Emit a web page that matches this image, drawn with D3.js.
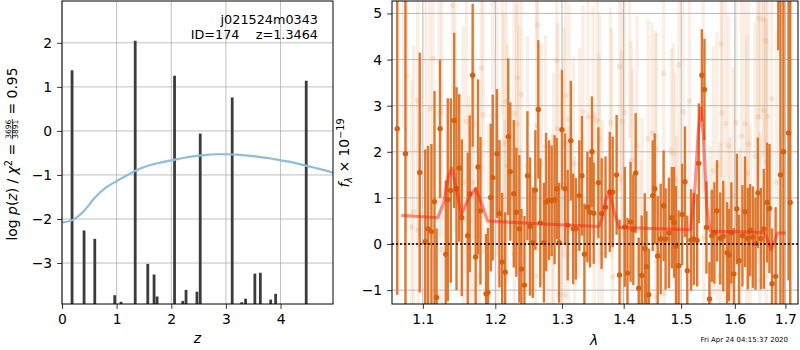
<!DOCTYPE html>
<html>
<head>
<meta charset="utf-8">
<script src="https://cdn.jsdelivr.net/npm/d3@7"></script>
<style>
body { margin: 0; background: #fff; }
svg { font-family: "DejaVu Sans", sans-serif; }
text { white-space: pre; }
</style>
</head>
<body>
<div class="canvas"></div>
<script>
// ---- p(z) panel data
const zCurve = [0, 0.2, 0.4, 0.6, 0.8, 1.0, 1.2, 1.4, 1.6, 1.8, 2.0, 2.2, 2.4, 2.6, 2.8, 3.0, 3.2, 3.4, 3.6, 3.8, 4.0, 4.2, 4.4, 4.6, 4.8, 4.96]
const logPCurve = [-2.08, -2.02, -1.82, -1.52, -1.29, -1.14, -1.0, -0.87, -0.78, -0.72, -0.67, -0.62, -0.58, -0.55, -0.53, -0.53, -0.54, -0.56, -0.59, -0.62, -0.67, -0.71, -0.77, -0.83, -0.89, -0.95]
const spikeZ = [0.184, 0.404, 0.60, 0.965, 1.08, 1.34, 1.57, 1.685, 1.74, 2.06, 2.21, 2.27, 2.47, 2.53, 3.115, 3.29, 3.36, 3.53, 3.63, 3.82, 3.91, 4.47]
const spikeLogP = [1.38, -2.26, -2.45, -3.73, -3.88, 2.05, -3.02, -3.26, -3.76, 1.25, -3.86, -3.61, -3.65, -0.06, 0.76, -3.89, -3.81, -3.24, -3.22, -3.83, -3.70, 1.14]
const zTicks = [0, 1, 2, 3, 4]
const logPTicks = [-3, -2, -1, 0, 1, 2]

// ---- spectrum panel data
const lamTicks = [1.1, 1.2, 1.3, 1.4, 1.5, 1.6, 1.7]
const fluxTicks = [-1, 0, 1, 2, 3, 4, 5]

const boldLam = [1.0667, 1.0773, 1.0959, 1.1032, 1.1069, 1.1114, 1.1155, 1.1183, 1.1230, 1.1307, 1.1334, 1.1375, 1.1422, 1.1454, 1.1491, 1.1527, 1.1609, 1.1637, 1.1678, 1.1720, 1.1753, 1.1788, 1.1867, 1.1894, 1.1935, 1.1963,
    1.2024, 1.2060, 1.2099, 1.2143, 1.2188, 1.2218, 1.2269, 1.2307, 1.2352, 1.2382, 1.2427, 1.2472, 1.2512, 1.2552, 1.2591, 1.2636, 1.2666, 1.2721, 1.2755, 1.2800, 1.2840, 1.2885, 1.2919, 1.2955, 1.3000, 1.3048, 1.3090, 1.3139, 1.3177, 1.3219, 1.3274, 1.3316, 1.3355, 1.3403, 1.3445, 1.3477, 1.3505,
    1.3581, 1.3634, 1.3698, 1.3768, 1.3816, 1.3882, 1.3931, 1.4019, 1.4064, 1.4116, 1.4163, 1.4203, 1.4255, 1.4307, 1.4359, 1.4388, 1.4428, 1.4497, 1.4532, 1.4584, 1.4636, 1.4688, 1.4723, 1.4782, 1.4834, 1.4874, 1.4908, 1.4955, 1.5019, 1.5069, 1.5111, 1.5180, 1.5230,
    1.5291, 1.5322, 1.5378, 1.5426, 1.5463, 1.5519, 1.5563, 1.5611, 1.5661, 1.5722, 1.5778, 1.5852, 1.5889, 1.5933, 1.5981, 1.6039, 1.6079, 1.6146, 1.6197, 1.6250, 1.6296, 1.6349, 1.6402, 1.6448, 1.6507, 1.6566, 1.6631, 1.6679, 1.6730, 1.6803, 1.6856, 1.6900, 1.6960, 1.7065, 1.7100]
const boldFlux = [2.5, 1.96, 1.55, 0.05, 0.33, 0.27, 0.92, -1.16, 2.5, -0.22, 0.96, 1.16, 2.68, 1.2, 1.65, 0.57, 0.18, 1.09, 3.66, -0.28, 1.67, 0.72, -1.08, -1.05, 1.01, 1.44,
    1.96, 0.66, -0.39, -0.61, 2.33, 1.57, 1.09, 0.69, 0.33, -0.54, -0.89, 1.48, 0.38, 0.03, 1.17, 2.92, 0.46, 0.03, 0.91, 0.95, 0.94, 0.96, 1.2, 0.03, 2.48, 1.2, 0.41, 2.24, 0.33, 0.33, 1.05, 1.48, -0.22, 0.8, 0.69, 2.0, 0.67,
    1.33, 0.66, 0.8, 1.13, 1.13, 1.5, -0.67, 0.37, -0.63, 0.48, 0.31, 1.54, -0.96, -0.68, -0.1, -0.49, -1.1, 1.05, 1.2, -0.26, 0.11, 0.83, 0.11, 0.24, 0.57, 0.47, -0.04, -0.47, 0.64, 1.35, -0.58, 0.09, 0.11,
    0.08, 1.75, 3.66, 3.35, 0.36, -1.19, 0.18, 0.24, 0.72, 0.12, 0.17, -0.19, -0.24, 0.24, -0.65, 0.76, -0.36, 0.18, 0.7, 0.12, 0.3, 0.15, 0.01, 1.11, 0.12, 0.33, 0.9, 0.77, -0.86, -0.7, 6.5, 1.5, 2.0, 2.41, 0.9]
const boldErr = [3.6, 3.4, 2.6, 2.0, 1.8, 1.9, 2.4, 1.5, 1.5, 1.6, 2.2, 2.0, 1.9, 2.2, 1.6, 1.7, 1.8, 1.7, 1.55, 1.5, 1.9, 1.6, 1.3, 1.4, 1.6, 1.8,
    1.4, 1.6, 1.5, 1.3, 1.7, 1.5, 1.6, 1.4, 1.6, 1.3, 1.5, 1.4, 1.5, 1.2, 1.3, 1.5, 1.4, 1.3, 1.5, 1.3, 1.2, 1.4, 1.1, 1.3, 1.3, 1.2, 1.2, 1.3, 1.2, 1.1, 1.2, 1.3, 1.1, 1.2, 1.2, 1.2, 1.1,
    1.2, 1.2, 1.1, 1.3, 1.2, 1.3, 1.2, 1.3, 1.2, 1.3, 1.2, 1.3, 1.1, 1.3, 1.2, 1.2, 1.0, 1.2, 1.2, 1.3, 1.2, 1.2, 1.1, 1.2, 1.1, 1.2, 1.3, 1.2, 1.1, 1.2, 1.2, 1.1, 1.0,
    1.0, 1.3, 1.0, 1.1, 1.0, 0.8, 1.0, 1.1, 1.1, 1.0, 1.2, 1.1, 1.0, 1.1, 1.0, 1.2, 1.0, 1.1, 1.2, 1.1, 1.0, 1.1, 1.0, 1.2, 1.1, 1.3, 1.3, 1.4, 1.2, 1.5, 2.3, 4.5, 6.0, 3.2, 4.5]

const faintLam = [1.1399, 1.1134, 1.0787, 1.1801, 1.0933, 1.1092, 1.1431, 1.1216, 1.1591, 1.1692, 1.1826, 1.1963, 1.1546, 1.1674, 1.0879, 1.0852, 1.0940, 1.1247, 1.1770, 1.1628, 1.1904, 1.1041,
    1.2621, 1.2919, 1.2322, 1.2382, 1.3058, 1.2158, 1.3332, 1.3413, 1.3493, 1.2273, 1.3113, 1.2612, 1.2934, 1.2024, 1.2313, 1.2124, 1.2746, 1.3032, 1.2348, 1.2681, 1.3182, 1.3279, 1.2472, 1.2173, 1.2870, 1.2031, 1.2281, 1.2782, 1.2846, 1.3102, 1.2591, 1.3048, 1.2950, 1.2132, 1.3513,
    1.3931, 1.4688, 1.4960, 1.5148, 1.5037, 1.4012, 1.3779, 1.3977, 1.3565, 1.4485, 1.4541, 1.4416, 1.4225, 1.4561, 1.4821, 1.4861, 1.3602, 1.3795, 1.4128, 1.3967, 1.4151, 1.4891, 1.3646, 1.3816, 1.4284, 1.4920, 1.4550, 1.4697, 1.3590, 1.4314,
    1.6466, 1.6556, 1.6607, 1.5741, 1.5402, 1.5754, 1.5824, 1.6021, 1.6197, 1.6448, 1.6641, 1.6570, 1.6724, 1.7091, 1.5880, 1.6131, 1.6264, 1.6394, 1.6615, 1.5592, 1.6230, 1.6822, 1.5970, 1.5661, 1.6980, 1.5539, 1.5722, 1.6487, 1.6099, 1.5415, 1.5907, 1.6296,
    1.0750, 1.1250, 1.2100, 1.3200, 1.4100, 1.5800, 1.6500, 1.6900]
const faintFlux = [5.17, 4.02, 3.66, 3.82, 3.12, 2.93, 3.35, 2.85, 2.66, 2.61, 2.8, 2.79, 1.33, 1.33, 0.7, 0.37, 0.31, -0.11, -0.70, -0.09, -0.27, 1.96,
    4.75, 3.98, 3.61, 3.24, 3.22, 3.09, 2.87, 2.76, 2.76, 2.83, 2.7, 2.57, 2.5, 2.77, 2.6, 2.19, 2.12, 2.18, 2.03, 1.75, 1.75, 1.75, 1.7, 1.71, 0.82, -0.2, -0.21, -0.2, -0.21, -0.25, -0.69, -1.1, -1.1, -0.2, 0.26,
    3.85, 3.7, 3.89, 3.1, 2.87, 2.85, 2.63, 2.66, 2.68, 2.41, 2.33, 2.28, 2.14, 2.07, 2.03, 1.96, 2.28, 2.18, 1.81, 1.4, 1.4, 1.4, -0.21, -0.71, -0.69, -0.05, -1.15, -1.07, 1.33, 0.24,
    4.89, 4.87, 4.41, 4.35, 4.21, 2.85, 2.61, 2.63, 2.61, 2.76, 2.76, 2.9, 3.15, 2.98, 2.13, 2.34, 2.17, 1.9, 1.8, 1.59, 1.54, 1.34, 1.04, 1.69, 1.54, -0.49, -0.7, -0.78, -0.92, 0.13, -0.49, -0.49,
    6.0, 5.8, 5.6, -1.6, 5.5, -1.8, 6.2, -1.5]
const faintErr = [3.0, 2.8, 3.4, 2.6, 3.2, 2.9, 3.1, 2.7, 3.3, 2.5, 3.0, 2.8, 3.4, 2.9, 3.6, 3.2, 2.8, 3.1, 2.7, 3.3, 2.9, 3.5,
    2.6, 2.4, 2.9, 2.7, 2.5, 3.0, 2.3, 2.6, 2.4, 2.8, 2.5, 2.7, 2.3, 2.9, 2.6, 2.8, 2.4, 2.5, 2.7, 2.6, 2.3, 2.5, 2.8, 2.6, 2.9, 2.7, 2.5, 2.4, 2.6, 2.8, 2.5, 2.7, 2.4, 2.9, 2.6,
    2.7, 2.5, 2.9, 2.4, 2.6, 2.8, 2.5, 2.7, 2.6, 2.4, 2.3, 2.6, 2.8, 2.5, 2.2, 2.4, 2.7, 2.5, 2.6, 2.8, 2.4, 2.3, 2.9, 2.6, 2.5, 2.4, 2.7, 2.6, 2.8, 2.5,
    3.2, 3.0, 3.4, 2.9, 3.1, 2.8, 3.0, 3.3, 2.9, 3.2, 3.5, 3.1, 3.4, 3.6, 2.8, 3.0, 3.2, 2.9, 3.1, 2.7, 3.0, 3.3, 2.8, 2.9, 3.8, 2.6, 2.9, 3.2, 3.0, 2.7, 2.8, 3.1,
    3.5, 3.0, 2.8, 3.5, 3.2, 3.0, 3.5, 4.0]

const modelLam = [1.072, 1.120, 1.128, 1.134, 1.139, 1.145, 1.152, 1.161, 1.172, 1.181, 1.189, 1.265, 1.359, 1.364, 1.370, 1.377, 1.384, 1.392, 1.517, 1.525, 1.531, 1.536, 1.541, 1.547, 1.553, 1.657, 1.664, 1.671, 1.678, 1.684, 1.701]
const modelFlux = [0.62, 0.57, 0.9, 1.45, 1.65, 1.2, 0.64, 0.95, 1.21, 0.85, 0.5, 0.44, 0.38, 0.55, 0.95, 1.14, 0.7, 0.36, 0.31, 1.2, 2.4, 2.95, 2.3, 0.8, 0.28, 0.25, 0.1, -0.12, 0.05, 0.24, 0.24]

const fontSize = 13.9
const gridColor = "#b0b0b0"

const svg = d3.select(".canvas").append("svg")
    .attr("width", 800)
    .attr("height", 350)

const leftBox = {x: 62, y: 1, w: 271, h: 303}
const rightBox = {x: 392, y: 1, w: 406, h: 303}

const defs = svg.append("defs")
defs.append("clipPath").attr("id", "clipL")
    .append("rect").attr("width", leftBox.w).attr("height", leftBox.h)
defs.append("clipPath").attr("id", "clipR")
    .append("rect").attr("width", rightBox.w).attr("height", rightBox.h)

function styleAxis(g) {
    g.select(".domain").remove()
    g.selectAll("line").attr("stroke", "#000").attr("stroke-width", 0.8)
    g.selectAll("text").attr("font-size", fontSize).attr("fill", "#000")
        .attr("font-family", "DejaVu Sans")
}

// ================= left panel: p(z)
const pz = svg.append("g")
    .attr("transform", `translate(${leftBox.x}, ${leftBox.y})`)

const xz = d3.scaleLinear().domain([0, 4.96]).range([0, leftBox.w])
const yp = d3.scaleLinear().domain([-3.93, 2.95]).range([leftBox.h, 0])

// grid
pz.selectAll(".gx").data(zTicks).enter().append("line")
    .attr("x1", d => xz(d)).attr("x2", d => xz(d))
    .attr("y1", 0).attr("y2", leftBox.h)
    .attr("stroke", gridColor).attr("stroke-width", 0.8)
pz.selectAll(".gy").data(logPTicks).enter().append("line")
    .attr("x1", 0).attr("x2", leftBox.w)
    .attr("y1", d => yp(d)).attr("y2", d => yp(d))
    .attr("stroke", gridColor).attr("stroke-width", 0.8)

const pzPlot = pz.append("g").attr("clip-path", "url(#clipL)")

// spikes
pzPlot.selectAll(".spike").data(spikeZ).enter().append("line")
    .attr("x1", d => xz(d)).attr("x2", d => xz(d))
    .attr("y1", yp(-5))
    .attr("y2", (d, i) => yp(spikeLogP[i]))
    .attr("stroke", "#3c3c3c")
    .attr("stroke-width", 2.8)

// prior curve
pzPlot.append("path")
    .datum(zCurve)
    .attr("fill", "none")
    .attr("stroke", "#8fbcdd")
    .attr("stroke-width", 2.2)
    .attr("d", d3.line().x(d => xz(d)).y((d, i) => yp(logPCurve[i])).curve(d3.curveMonotoneX))

pz.append("g")
    .attr("transform", `translate(0, ${leftBox.h})`)
    .call(d3.axisBottom(xz).tickValues(zTicks).tickSize(4.9).tickPadding(5.2).tickFormat(d3.format("d")))
    .call(styleAxis)
pz.append("g")
    .call(d3.axisLeft(yp).tickValues(logPTicks).tickSize(4.9).tickPadding(4.9).tickFormat(d3.format("d")))
    .call(styleAxis)

pz.append("rect")
    .attr("width", leftBox.w).attr("height", leftBox.h)
    .attr("fill", "none").attr("stroke", "#000").attr("stroke-width", 1)

pz.append("text")
    .attr("x", 256).attr("y", 23)
    .attr("text-anchor", "end").attr("font-size", 12.8)
    .text("j021524m0343")
pz.append("text")
    .attr("x", 256).attr("y", 38)
    .attr("text-anchor", "end").attr("font-size", 12.8)
    .text("ID=174    z=1.3464")

svg.append("text")
    .attr("x", leftBox.x + leftBox.w / 2).attr("y", 343)
    .attr("text-anchor", "middle").attr("font-size", fontSize)
    .attr("font-style", "italic")
    .text("z")

// y label with fraction
const ylab = svg.append("g").attr("transform", "translate(17, 154) rotate(-90)")
const ylabInner = ylab.append("g")
const t1 = ylabInner.append("text").attr("font-size", fontSize)
t1.append("tspan").text("log ")
t1.append("tspan").attr("font-style", "italic").text("p")
t1.append("tspan").text("(")
t1.append("tspan").attr("font-style", "italic").text("z")
t1.append("tspan").text(") / ")
t1.append("tspan").attr("font-style", "italic").text("χ")
t1.append("tspan").attr("font-size", 9.7).attr("dy", -5.5).text("2")
t1.append("tspan").attr("dy", 5.5).text(" = ")
const w1 = t1.node().getComputedTextLength()
const num = ylabInner.append("text").attr("font-size", 7.5).attr("y", -6.2).text("3696")
const den = ylabInner.append("text").attr("font-size", 7.5).attr("y", 1.2).text("3891")
const wf = Math.max(num.node().getComputedTextLength(), den.node().getComputedTextLength()) + 1.5
num.attr("x", w1 + wf / 2).attr("text-anchor", "middle")
den.attr("x", w1 + wf / 2).attr("text-anchor", "middle")
ylabInner.append("line")
    .attr("x1", w1).attr("x2", w1 + wf)
    .attr("y1", -4.6).attr("y2", -4.6)
    .attr("stroke", "#000").attr("stroke-width", 0.7)
const t3 = ylabInner.append("text").attr("font-size", fontSize)
    .attr("x", w1 + wf).text(" = 0.95")
const wTot = w1 + wf + t3.node().getComputedTextLength()
ylabInner.attr("transform", `translate(${-wTot / 2}, 0)`)

// ================= right panel: spectrum
const sp = svg.append("g")
    .attr("transform", `translate(${rightBox.x}, ${rightBox.y})`)

const xl = d3.scaleLog().domain([1.06, 1.726]).range([0, rightBox.w])
const yf = d3.scaleLinear().domain([-1.30, 5.27]).range([rightBox.h, 0])

const spPlot = sp.append("g").attr("clip-path", "url(#clipR)")

const faint = faintLam.map((d, i) => ({lam: d, f: faintFlux[i], e: faintErr[i]}))
const bold = boldLam.map((d, i) => ({lam: d, f: boldFlux[i], e: boldErr[i]}))

// faint spectra
spPlot.selectAll(".fbar").data(faint).enter().append("line")
    .attr("x1", d => xl(d.lam)).attr("x2", d => xl(d.lam))
    .attr("y1", d => yf(d.f - d.e)).attr("y2", d => yf(d.f + d.e))
    .attr("stroke", "#e0782a").attr("stroke-opacity", 0.12)
    .attr("stroke-width", 3.4)
spPlot.selectAll(".fdot").data(faint).enter().append("circle")
    .attr("cx", d => xl(d.lam)).attr("cy", d => yf(d.f))
    .attr("r", 2.8)
    .attr("fill", "#e0782a").attr("fill-opacity", 0.15)

// grid
sp.selectAll(".gx").data(lamTicks).enter().append("line")
    .attr("x1", d => xl(d)).attr("x2", d => xl(d))
    .attr("y1", 0).attr("y2", rightBox.h)
    .attr("stroke", gridColor).attr("stroke-width", 0.9)
sp.selectAll(".gy").data(fluxTicks).enter().append("line")
    .attr("x1", 0).attr("x2", rightBox.w)
    .attr("y1", d => yf(d)).attr("y2", d => yf(d))
    .attr("stroke", gridColor).attr("stroke-width", 0.9)

// bold spectra
const spBold = sp.append("g").attr("clip-path", "url(#clipR)")
spBold.selectAll(".bbar").data(bold).enter().append("line")
    .attr("x1", d => xl(d.lam)).attr("x2", d => xl(d.lam))
    .attr("y1", d => yf(d.f - d.e)).attr("y2", d => yf(d.f + d.e))
    .attr("stroke", "#de772f")
    .attr("stroke-width", 2.4)
spBold.selectAll(".bdot").data(bold).enter().append("circle")
    .attr("cx", d => xl(d.lam)).attr("cy", d => yf(d.f))
    .attr("r", 2.7)
    .attr("fill", "#d6600f")

// model
spBold.append("path")
    .datum(modelLam)
    .attr("fill", "none")
    .attr("stroke", "#ff2010")
    .attr("stroke-opacity", 0.5)
    .attr("stroke-width", 3.2)
    .attr("stroke-linejoin", "round")
    .attr("d", d3.line().x(d => xl(d)).y((d, i) => yf(modelFlux[i])))

// zero line
sp.append("line")
    .attr("x1", 0).attr("x2", rightBox.w)
    .attr("y1", yf(0)).attr("y2", yf(0))
    .attr("stroke", "#000").attr("stroke-width", 1.5)
    .attr("stroke-dasharray", "2,2")

sp.append("g")
    .attr("transform", `translate(0, ${rightBox.h})`)
    .call(d3.axisBottom(xl).tickValues(lamTicks).tickSize(4.9).tickPadding(5.2).tickFormat(d3.format(".1f")))
    .call(styleAxis)
sp.append("g")
    .call(d3.axisLeft(yf).tickValues(fluxTicks).tickSize(4.9).tickPadding(4.9).tickFormat(d3.format("d")))
    .call(styleAxis)

sp.append("rect")
    .attr("width", rightBox.w).attr("height", rightBox.h)
    .attr("fill", "none").attr("stroke", "#000").attr("stroke-width", 1)

svg.append("text")
    .attr("x", 594).attr("y", 345)
    .attr("text-anchor", "middle").attr("font-size", fontSize)
    .attr("font-style", "italic")
    .text("λ")

const yr = svg.append("g").attr("transform", "translate(349, 153) rotate(-90)")
const tr = yr.append("text").attr("font-size", fontSize).attr("text-anchor", "middle")
tr.append("tspan").attr("font-style", "italic").text("f")
tr.append("tspan").attr("font-style", "italic").attr("font-size", 9.7).attr("dy", 3).text("λ")
tr.append("tspan").attr("dy", -3).text(" × 10")
tr.append("tspan").attr("font-size", 9.7).attr("dy", -5.5).text("−19")

svg.append("text")
    .attr("x", 788).attr("y", 342)
    .attr("text-anchor", "end").attr("font-size", 7)
    .text("Fri Apr 24 04:15:37 2020")
</script>
</body>
</html>
